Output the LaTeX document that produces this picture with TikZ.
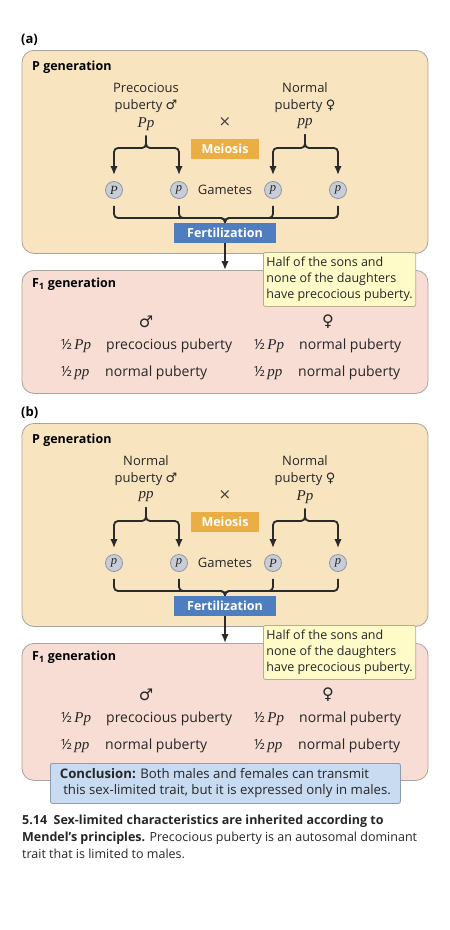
\documentclass[tikz,border=0pt]{standalone}
\usepackage{fontspec}
\setmainfont{Open Sans}
\newfontfamily\genofont{Liberation Serif}
\newfontfamily\symfont{DejaVu Sans}
\usetikzlibrary{arrows.meta,positioning}
\definecolor{pgenfill}{HTML}{F9E4C0}
\definecolor{fgenfill}{HTML}{F7DDD3}
\definecolor{boxline}{HTML}{A8A29C}
\definecolor{meiofill}{HTML}{EBAE45}
\definecolor{fertfill}{HTML}{4F7EC0}
\definecolor{gamfill}{HTML}{C9CDD7}
\definecolor{gamline}{HTML}{8E96A6}
\definecolor{notefill}{HTML}{FEFBC9}
\definecolor{noteline}{HTML}{B5AE8E}
\definecolor{conclfill}{HTML}{C8DBF1}
\definecolor{conclline}{HTML}{8A9BB4}
\definecolor{wirecol}{HTML}{2A2A2A}
\newcommand{\geno}[1]{{\genofont\itshape\fontsize{15}{15}\selectfont #1}}
\newcommand{\malesym}{{\symfont ♂}}
\newcommand{\femsym}{{\symfont ♀}}

\begin{document}
\begin{tikzpicture}[
    x=1pt, y=-1pt,
    every node/.style={font=\fontsize{13}{17}\selectfont, inner sep=0pt, text=black!85},
    head/.style={anchor=west, font=\fontsize{12.5}{15}\selectfont\bfseries, text=black},
    genbox/.style={draw=boxline, line width=0.8pt, rounded corners=12pt, minimum width=406pt},
    tagbox/.style={font=\fontsize{12.5}{15}\selectfont\bfseries, text=white, minimum height=20pt},
    gamete/.style={circle, draw=gamline, fill=gamfill, line width=0.8pt, minimum size=17pt,
      font=\fontsize{12.5}{12.5}\selectfont\genofont\itshape},
    wire/.style={draw=wirecol, line width=1.8pt, rounded corners=4pt},
    arrow/.style={wire, -{Latex[length=9pt,width=7.5pt]}},
    note/.style={draw=noteline, fill=notefill, line width=0.8pt, rounded corners=2pt,
      align=left, inner xsep=3pt, inner ysep=3pt, minimum width=152pt, minimum height=54pt,
      font=\fontsize{12.5}{16}\selectfont},
    cell/.style={anchor=west, font=\fontsize{14}{17}\selectfont}
  ]
  \useasboundingbox (0,0) rectangle (450,930);

  \foreach \pn/\dy/\mlab/\mg/\fg/\ga/\gb/\gc/\gd/\fh in
      {a/0/Precocious/Pp/pp/P/p/p/p/123, b/373/Normal/pp/Pp/p/p/P/p/137} {
    \begin{scope}[yshift=-\dy]
      % P generation
      \node[anchor=west, font=\fontsize{13}{15}\selectfont\bfseries, text=black] (\pn-tag) at (21,40) {(\pn)};
      \node[genbox, fill=pgenfill, minimum height=203pt, anchor=north] (\pn-pbox) at (225,50) {};
      \node[head] (\pn-phead) at (32,67) {P generation};
      \node[align=center] (\pn-male) at (146,98) {\mlab\\puberty \malesym};
      \node (\pn-mg) at (146,124) {\geno{\mg}};
      \node[align=center] (\pn-fem) at (305,98) {Normal\\puberty \femsym};
      \node (\pn-fg) at (305,124) {\geno{\fg}};
      \node[font=\fontsize{15}{15}\selectfont\symfont, text=black!75] (\pn-cross) at (225,122) {×};
      \node[tagbox, fill=meiofill, minimum width=68pt] (\pn-mei) at (225,149) {Meiosis};

      \node[gamete] (\pn-g1) at (114,190) {\ga};
      \node[gamete] (\pn-g2) at (179,190) {\gb};
      \node[gamete] (\pn-g3) at (273,190) {\gc};
      \node[gamete] (\pn-g4) at (338,190) {\gd};
      \node (\pn-gam) at (225,190) {Gametes};
      \node[tagbox, fill=fertfill, minimum width=102pt] (\pn-fert) at (225,233) {Fertilization};

      % meiosis brackets
      \coordinate (\pn-mk) at (146,148);
      \coordinate (\pn-fk) at (305,148);
      \draw[arrow, shorten <=5pt, shorten >=6pt] (\pn-mg.south) -- (\pn-mk) -| (\pn-g1.north);
      \draw[arrow, shorten <=5pt, shorten >=6pt] (\pn-mg.south) -- (\pn-mk) -| (\pn-g2.north);
      \draw[arrow, shorten <=5pt, shorten >=6pt] (\pn-fg.south) -- (\pn-fk) -| (\pn-g3.north);
      \draw[arrow, shorten <=5pt, shorten >=6pt] (\pn-fg.south) -- (\pn-fk) -| (\pn-g4.north);

      % fertilization bracket
      \coordinate (\pn-zk) at (225,218);
      \draw[wire, shorten <=7pt] (\pn-g1.south) |- (\pn-zk) -- (\pn-fert.north);
      \draw[wire, shorten <=7pt] (\pn-g2.south) |- (\pn-zk) -- (\pn-fert.north);
      \draw[wire, shorten <=7pt] (\pn-g3.south) |- (\pn-zk) -- (\pn-fert.north);
      \draw[wire, shorten <=7pt] (\pn-g4.south) |- (\pn-zk) -- (\pn-fert.north);

      % F1 generation
      \node[genbox, fill=fgenfill, minimum height=\fh, anchor=north] (\pn-fbox) at (225,270) {};
      \draw[arrow] (\pn-fert.south) -- (\pn-fbox.north);
      \node[head] (\pn-fhead) at (32,284) {F\textsubscript{1} generation};
      \node[note, anchor=north west] (\pn-note) at (263,252)
        {Half of the sons and\\none of the daughters\\have precocious puberty.};

      \node[font=\fontsize{16}{16}\selectfont] (\pn-sons) at (146,322) {\malesym};
      \node[font=\fontsize{16}{16}\selectfont] (\pn-daus) at (328,322) {\femsym};
      \node[cell] (\pn-m1) at (61,346) {½\,\geno{Pp}};
      \node[cell] (\pn-m1t) at (106,346) {precocious puberty};
      \node[cell] (\pn-m2) at (61,373) {½\,\geno{pp}};
      \node[cell] (\pn-m2t) at (105,373) {normal puberty};
      \node[cell] (\pn-f1) at (254,346) {½\,\geno{Pp}};
      \node[cell] (\pn-f1t) at (299,346) {normal puberty};
      \node[cell] (\pn-f2) at (254,373) {½\,\geno{pp}};
      \node[cell] (\pn-f2t) at (298,373) {normal puberty};
    \end{scope}
  }

  % conclusion and caption
  \node[draw=conclline, fill=conclfill, line width=0.8pt, rounded corners=2pt, align=left,
    anchor=north west, minimum width=350pt, minimum height=40pt, inner xsep=4pt,
    font=\fontsize{13.2}{16}\selectfont] (concl) at (50,763)
    {\textbf{Conclusion:} Both males and females can transmit\\
     \ this sex-limited trait, but it is expressed only in males.};
  \node[anchor=north west, align=left, font=\fontsize{12.5}{17}\selectfont] (caption) at (22,815)
    {\textbf{5.14\ \ Sex-limited characteristics are inherited according to}\\
     \textbf{Mendel’s principles.} Precocious puberty is an autosomal dominant\\
     trait that is limited to males.};
\end{tikzpicture}
\end{document}
